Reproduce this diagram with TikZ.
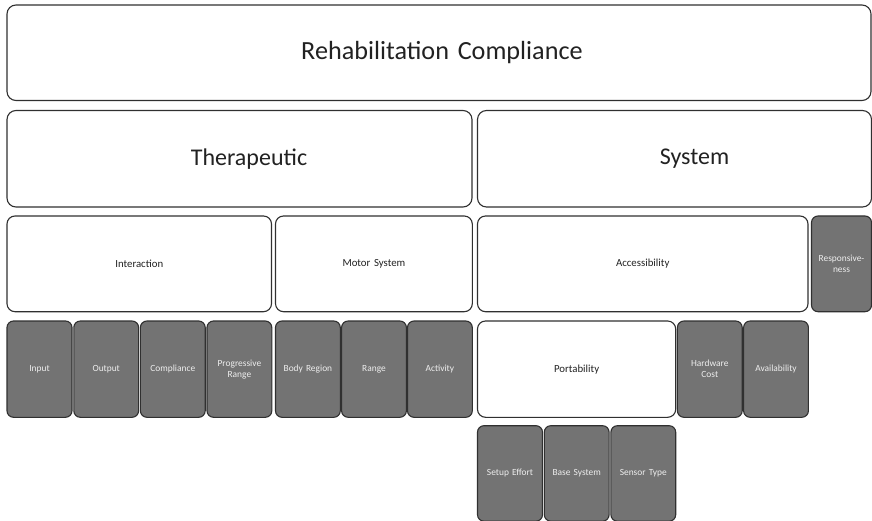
\documentclass[tikz,border=0pt]{standalone}
\usepackage{fontspec}
\setmainfont{Carlito}
\definecolor{boxline}{HTML}{303030}
\definecolor{boxgray}{HTML}{737373}
\definecolor{txtdark}{HTML}{222222}
\definecolor{txtlight}{HTML}{EEEEEE}
\tikzset{
  base/.style={draw=boxline, line width=1.1pt, anchor=north west, inner sep=1pt, outer sep=0pt, align=center},
  wbig/.style={base, fill=white, rounded corners=9pt, text=txtdark},
  wmid/.style={base, fill=white, rounded corners=8pt, text=txtdark, font=\fontsize{10.8}{12}\selectfont},
  gbox/.style={base, fill=boxgray, rounded corners=6.5pt, text=txtlight, font=\fontsize{9.4}{11}\selectfont},
}
\newcommand{\bx}[7]{\node[#1, minimum width=#4pt, minimum height=#5pt, text width=#4pt-4pt] (#6) at (#2,#3) {#7};}
\begin{document}
\begin{tikzpicture}[x=1pt,y=-1pt]
\useasboundingbox (0,0) rectangle (872,521);
\begin{scope}
\clip (0,0) rectangle (872,521);
% level 1
\bx{wbig, font=\fontsize{26.2}{29}\selectfont}{7}{5}{864}{95.5}{top}{\hspace*{6pt}Rehabilitation Compliance}
% level 2
\bx{wbig, font=\fontsize{24}{27}\selectfont}{7}{110.5}{465}{96.5}{ther}{\hspace*{19pt}Therapeutic}
\bx{wbig, font=\fontsize{24}{27}\selectfont}{477.5}{110.5}{394}{96.5}{sys}{\hspace*{40pt}System}
% level 3
\bx{wmid}{7}{216}{264.5}{95.7}{inter}{Interaction}
\bx{wmid}{275.5}{216}{196.8}{95.7}{motor}{Motor System}
\bx{wmid}{477.5}{216}{330.5}{95.7}{acc}{Accessibility}
\bx{gbox}{811.5}{216}{60}{95.7}{resp}{Responsive-\\ness}
% level 4
\bx{gbox}{7}{321}{65}{96.3}{input}{Input}
\bx{gbox}{73.8}{321}{64.8}{96.3}{output}{Output}
\bx{gbox}{140.4}{321}{64.8}{96.3}{compl}{Compliance}
\bx{gbox}{207}{321}{64.8}{96.3}{prog}{Progressive\\Range}
\bx{gbox}{275.5}{321}{64.8}{96.3}{body}{Body Region}
\bx{gbox}{341.6}{321}{64.8}{96.3}{range}{Range}
\bx{gbox}{407.5}{321}{64.8}{96.3}{act}{Activity}
\bx{wmid}{477.5}{321}{198.2}{96.3}{port}{Portability}
\bx{gbox}{677.4}{321}{64.8}{96.3}{hw}{Hardware\\Cost}
\bx{gbox}{743.6}{321}{64.8}{96.3}{avail}{Availability}
% level 5
\bx{gbox}{477.5}{425.7}{65}{95.5}{setup}{Setup Effort}
\bx{gbox}{544.3}{425.7}{64.8}{95.5}{basesys}{Base System}
\bx{gbox}{610.9}{425.7}{64.8}{95.5}{sensor}{Sensor Type}
\end{scope}
\end{tikzpicture}
\end{document}
